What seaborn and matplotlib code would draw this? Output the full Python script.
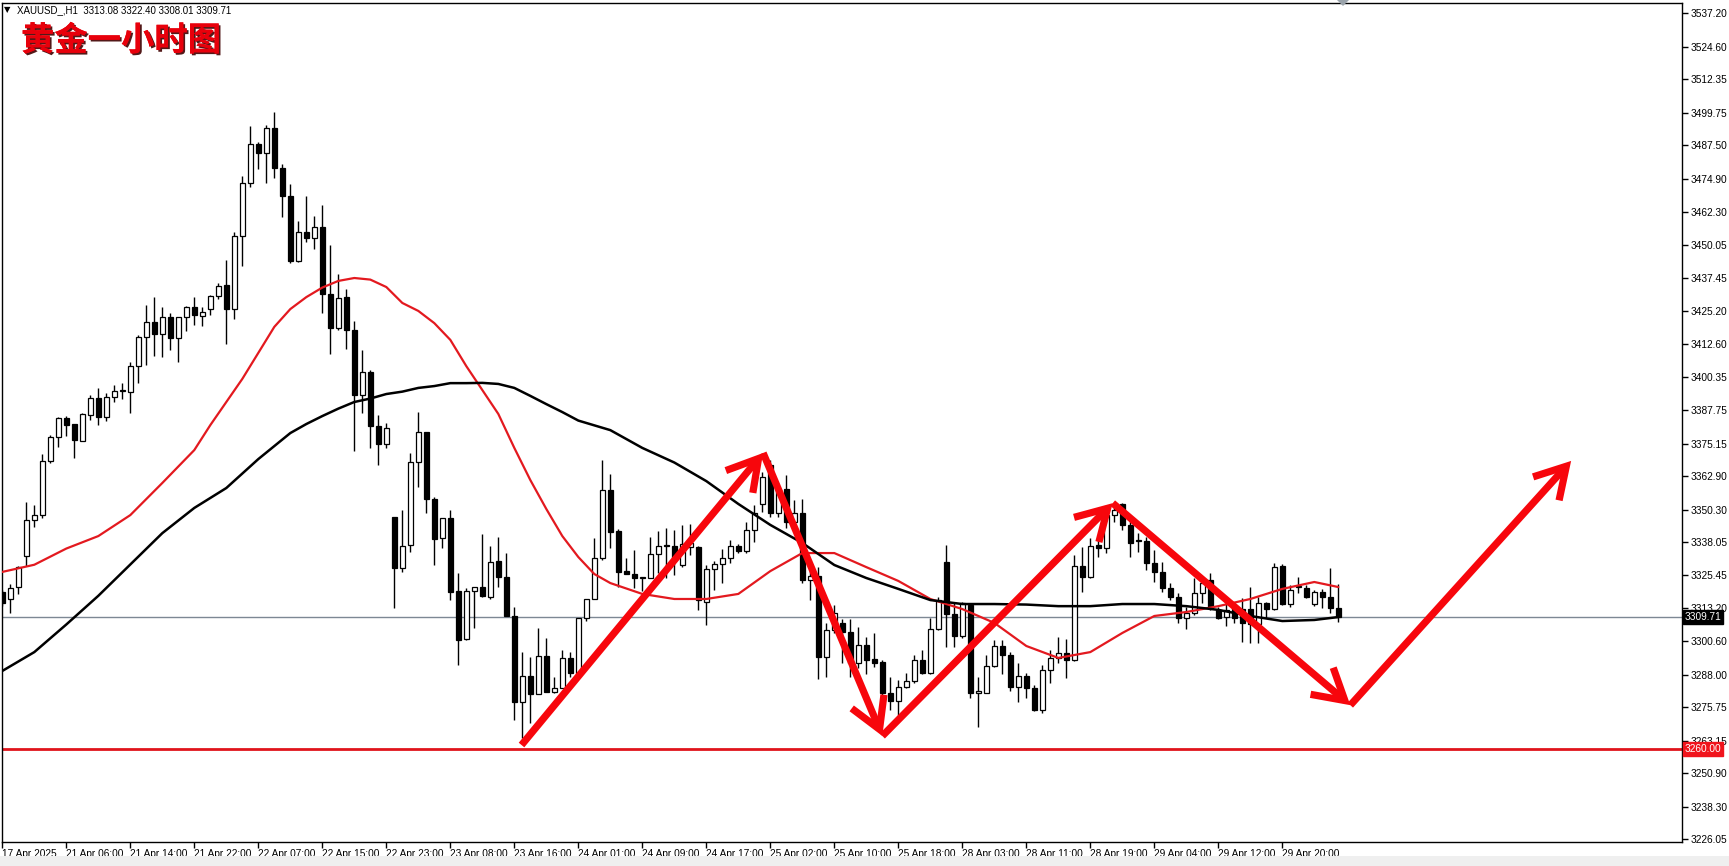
import numpy as np
import pandas as pd
import matplotlib
matplotlib.use("Agg")
import matplotlib.pyplot as plt
import matplotlib.patheffects as pe
import matplotlib.transforms as mtransforms
from matplotlib.patches import Rectangle, Polygon
import seaborn as sns

# ---------------- data (XAUUSD H1) ----------------
opens = [3319.2, 3316.6, 3321.1, 3332.8, 3346.4, 3348.2, 3368.6, 3377.6, 3384.8, 3382.5,
         3376.1, 3385.9, 3392.3, 3385.1, 3392.7, 3394.9, 3394.6, 3404.4, 3415.3, 3420.9,
         3416.4, 3422.8, 3414.9, 3422.8, 3426.6, 3423.2, 3425.8, 3430.7, 3434.9, 3425.8,
         3453.3, 3473.3, 3488.0, 3484.6, 3494.0, 3478.9, 3468.4, 3443.9, 3454.8, 3452.6,
         3456.7, 3431.5, 3418.7, 3430.3, 3417.9, 3393.4, 3402.1, 3381.8, 3375.0, 3347.5,
         3328.3, 3336.9, 3368.2, 3379.5, 3354.3, 3339.6, 3347.1, 3319.6, 3301.5, 3319.6,
         3321.1, 3317.3, 3330.9, 3324.9, 3310.2, 3277.8, 3287.6, 3280.8, 3295.1, 3281.6,
         3283.1, 3294.4, 3288.7, 3309.4, 3316.6, 3332.0, 3357.7, 3342.2, 3327.2, 3326.0,
         3324.5, 3324.5, 3333.5, 3336.6, 3336.6, 3329.4, 3336.2, 3336.2, 3315.5, 3327.9,
         3329.8, 3332.0, 3336.6, 3334.7, 3342.6, 3352.4, 3367.1, 3349.0, 3358.0, 3345.6,
         3349.0, 3323.8, 3325.3, 3294.7, 3304.9, 3307.6, 3304.2, 3292.5, 3299.3, 3294.0,
         3292.9, 3281.2, 3278.2, 3283.5, 3285.7, 3293.6, 3288.7, 3305.3, 3330.5, 3311.0,
         3302.7, 3314.3, 3281.2, 3281.2, 3291.4, 3298.9, 3295.5, 3283.5, 3287.6, 3283.1,
         3274.8, 3289.9, 3294.4, 3296.2, 3293.6, 3329.0, 3324.9, 3336.9, 3335.8, 3348.2,
         3352.4, 3344.5, 3338.4, 3338.4, 3330.2, 3326.8, 3320.7, 3317.3, 3309.4, 3311.3,
         3318.8, 3323.8, 3312.5, 3309.8, 3313.2, 3312.8, 3312.8, 3307.2, 3315.1, 3312.8,
         3329.0, 3314.7, 3321.1, 3320.7, 3314.7, 3319.2, 3317.3, 3313.08]
highs = [3320.0, 3322.2, 3329.0, 3353.1, 3352.0, 3371.2, 3378.4, 3385.1, 3385.5, 3382.5,
         3386.7, 3393.4, 3396.1, 3394.2, 3397.2, 3397.9, 3405.9, 3416.0, 3427.3, 3430.3,
         3426.6, 3424.3, 3422.8, 3427.0, 3430.3, 3426.6, 3431.1, 3435.6, 3444.3, 3454.8,
         3475.9, 3494.8, 3488.7, 3495.1, 3500.0, 3480.4, 3472.9, 3459.0, 3468.4, 3460.8,
         3465.0, 3449.9, 3439.0, 3433.4, 3421.3, 3410.4, 3402.9, 3385.9, 3382.9, 3347.5,
         3350.1, 3371.6, 3387.0, 3379.5, 3355.0, 3347.1, 3350.1, 3326.4, 3320.7, 3321.1,
         3341.1, 3336.6, 3339.9, 3333.9, 3313.6, 3296.6, 3294.7, 3305.7, 3301.9, 3287.2,
         3297.4, 3296.6, 3309.4, 3316.6, 3339.6, 3369.0, 3363.7, 3342.9, 3332.0, 3335.1,
         3324.9, 3339.9, 3342.2, 3343.3, 3342.6, 3344.5, 3344.8, 3336.5, 3329.4, 3330.9,
         3335.4, 3338.8, 3337.3, 3345.6, 3352.0, 3364.4, 3369.0, 3360.3, 3363.3, 3353.9,
         3354.3, 3328.6, 3328.6, 3307.6, 3314.3, 3309.1, 3309.1, 3306.1, 3302.3, 3303.8,
         3293.6, 3287.2, 3286.1, 3288.7, 3295.5, 3297.4, 3309.4, 3317.3, 3336.9, 3315.1,
         3315.5, 3314.7, 3287.2, 3295.5, 3301.2, 3301.2, 3296.6, 3292.5, 3288.7, 3284.2,
         3291.7, 3297.4, 3302.3, 3301.5, 3333.2, 3336.2, 3339.6, 3340.7, 3351.2, 3352.0,
         3352.7, 3347.5, 3341.5, 3339.9, 3335.1, 3330.5, 3322.6, 3318.8, 3313.6, 3324.5,
         3324.9, 3326.4, 3313.6, 3315.5, 3315.5, 3316.9, 3321.1, 3317.3, 3315.5, 3330.2,
         3329.8, 3321.9, 3324.9, 3321.9, 3320.0, 3320.4, 3328.3, 3322.40]
lows = [3314.0, 3311.3, 3318.5, 3329.0, 3343.7, 3347.1, 3367.8, 3373.8, 3378.0, 3369.7,
        3376.1, 3384.0, 3382.1, 3383.6, 3390.8, 3391.9, 3386.7, 3397.9, 3404.8, 3408.1,
        3407.7, 3410.4, 3405.9, 3417.5, 3419.8, 3419.4, 3423.6, 3429.6, 3412.6, 3422.1,
        3442.0, 3471.8, 3478.5, 3473.3, 3475.2, 3460.5, 3443.2, 3443.5, 3451.1, 3448.4,
        3424.3, 3408.9, 3417.9, 3410.8, 3372.3, 3386.7, 3373.5, 3367.1, 3373.5, 3313.2,
        3326.8, 3334.3, 3358.8, 3349.0, 3329.4, 3335.8, 3316.2, 3291.7, 3301.2, 3305.7,
        3317.3, 3316.6, 3321.1, 3310.2, 3271.0, 3264.2, 3269.9, 3280.8, 3281.6, 3281.2,
        3283.1, 3287.2, 3288.7, 3308.3, 3316.6, 3331.3, 3335.8, 3321.1, 3326.0, 3320.7,
        3319.6, 3324.5, 3326.4, 3324.5, 3325.6, 3328.6, 3333.2, 3312.5, 3306.8, 3320.0,
        3322.6, 3330.2, 3333.9, 3333.9, 3338.1, 3349.4, 3347.5, 3347.5, 3343.3, 3343.7,
        3322.6, 3316.2, 3286.5, 3287.2, 3303.8, 3292.5, 3287.2, 3290.6, 3288.3, 3291.0,
        3273.7, 3274.8, 3272.9, 3283.1, 3284.9, 3288.3, 3288.3, 3304.9, 3298.5, 3298.5,
        3301.9, 3279.3, 3268.4, 3281.2, 3291.0, 3288.3, 3281.9, 3277.8, 3279.3, 3274.4,
        3273.7, 3284.9, 3292.5, 3286.8, 3293.2, 3319.2, 3324.5, 3332.4, 3333.9, 3345.6,
        3342.6, 3332.4, 3334.3, 3327.5, 3323.0, 3319.2, 3316.2, 3307.6, 3305.3, 3310.6,
        3315.1, 3312.5, 3309.1, 3306.4, 3307.6, 3300.4, 3300.0, 3300.0, 3309.4, 3312.5,
        3314.3, 3313.6, 3318.8, 3316.9, 3313.9, 3313.2, 3311.3, 3308.01]
closes = [3315.1, 3320.7, 3328.6, 3346.4, 3348.2, 3368.6, 3377.6, 3384.8, 3382.1, 3376.5,
          3386.3, 3392.3, 3385.1, 3392.7, 3394.9, 3395.0, 3404.4, 3415.3, 3420.9, 3416.4,
          3422.8, 3414.9, 3422.8, 3426.6, 3423.6, 3424.7, 3430.7, 3434.5, 3425.8, 3453.3,
          3473.3, 3488.0, 3484.6, 3494.0, 3478.9, 3468.4, 3443.9, 3454.8, 3452.6, 3456.7,
          3431.5, 3418.7, 3430.0, 3417.9, 3393.4, 3402.1, 3381.8, 3375.0, 3381.0, 3328.3,
          3336.6, 3368.2, 3379.5, 3354.3, 3339.2, 3347.1, 3319.2, 3301.2, 3319.6, 3321.1,
          3317.7, 3330.5, 3324.9, 3310.2, 3277.8, 3287.6, 3280.8, 3295.1, 3281.6, 3283.1,
          3294.4, 3288.7, 3309.4, 3316.6, 3332.0, 3357.7, 3341.8, 3326.8, 3326.0, 3324.5,
          3324.6, 3333.5, 3336.6, 3336.5, 3332.0, 3337.3, 3337.7, 3316.2, 3327.9, 3329.8,
          3332.0, 3336.6, 3334.7, 3342.6, 3349.0, 3362.5, 3349.0, 3357.7, 3345.6, 3349.0,
          3323.8, 3325.3, 3294.7, 3304.9, 3311.3, 3304.2, 3292.5, 3299.3, 3293.6, 3292.5,
          3281.2, 3278.2, 3283.5, 3285.7, 3293.6, 3288.7, 3305.3, 3316.2, 3311.0, 3302.7,
          3315.1, 3281.2, 3281.9, 3291.4, 3298.9, 3295.5, 3283.5, 3287.6, 3283.1, 3274.8,
          3289.9, 3294.4, 3296.2, 3293.6, 3329.0, 3324.9, 3336.6, 3335.8, 3348.2, 3350.1,
          3344.5, 3337.7, 3338.3, 3330.2, 3326.8, 3320.7, 3317.3, 3309.4, 3311.3, 3318.8,
          3322.6, 3313.2, 3309.4, 3312.5, 3309.4, 3307.6, 3307.2, 3315.1, 3312.8, 3328.6,
          3314.7, 3320.0, 3321.2, 3317.3, 3319.2, 3317.3, 3313.2, 3309.71]

# moving averages (denser where the curves bend)
red_bars = [0, 4, 8, 12, 16, 20, 24, 26, 28, 30, 32, 34, 36, 38, 40, 42, 44, 46, 48, 50,
            52, 54, 56, 58, 60, 62, 64, 66, 68, 70, 72, 74, 76, 80, 84, 88, 92, 96, 100,
            104, 108, 112, 116, 120, 124, 128, 132, 136, 140, 144, 148, 152, 156, 160,
            164, 167]
red_ma = [3326.8, 3329.5, 3335.6, 3340.3, 3348.2, 3360.3, 3372.7, 3382.1, 3390.8, 3399.5,
          3409.3, 3419.1, 3425.8, 3430.3, 3433.9, 3436.4, 3437.5, 3436.9, 3434.1, 3428.1,
          3425.1, 3420.5, 3414.2, 3404.3, 3395.3, 3386.3, 3373.5, 3361.4, 3350.5, 3340.3,
          3332.4, 3326.0, 3322.6, 3318.5, 3316.6, 3316.6, 3318.5, 3327.1, 3333.9, 3333.9,
          3328.6, 3323.4, 3316.6, 3312.8, 3307.6, 3298.9, 3294.4, 3296.6, 3303.8, 3310.2,
          3311.7, 3313.9, 3316.6, 3320.4, 3323.0, 3321.1]
black_bars = [0, 4, 8, 12, 16, 20, 24, 28, 32, 36, 38, 40, 42, 44, 46, 48, 50, 52, 54, 56,
              58, 60, 62, 64, 66, 68, 70, 72, 76, 80, 84, 88, 92, 96, 100, 104, 108, 112,
              116, 120, 124, 128, 132, 136, 140, 144, 148, 152, 156, 160, 164, 167]
black_ma = [3289.5, 3296.6, 3307.0, 3317.8, 3329.6, 3341.4, 3350.9, 3358.4, 3369.3, 3379.1,
            3382.5, 3385.5, 3388.3, 3390.8, 3392.1, 3393.8, 3394.7, 3396.1, 3396.8, 3397.9,
            3397.9, 3398.0, 3397.6, 3396.1, 3393.1, 3390.0, 3387.0, 3383.8, 3380.2, 3373.5,
            3368.0, 3361.0, 3352.4, 3344.5, 3337.7, 3329.4, 3324.5, 3320.4, 3316.2, 3314.7,
            3314.7, 3314.5, 3313.9, 3313.9, 3314.7, 3314.7, 3313.9, 3312.5, 3310.2, 3308.3,
            3308.7, 3309.8]

# hand-drawn forecast path (bar index, price)
path_bars = [64.9, 95.1, 110.0, 138.8, 168.5, 196.1]
path_prices = [3261.6, 3371.6, 3265.0, 3352.7, 3276.6, 3368.6]

price_ticks = [3537.20, 3524.60, 3512.35, 3499.75, 3487.50, 3474.90, 3462.30, 3450.05,
               3437.45, 3425.20, 3412.60, 3400.35, 3387.75, 3375.15, 3362.90, 3350.30,
               3338.05, 3325.45, 3313.20, 3300.60, 3288.00, 3275.75, 3263.15, 3250.90,
               3238.30, 3226.05]
time_tick_bars = [0, 8, 16, 24, 32, 40, 48, 56, 64, 72, 80, 88, 96, 104, 112, 120, 128,
                  136, 144, 152, 160]
time_tick_labels = ["17 Apr 2025", "21 Apr 06:00", "21 Apr 14:00", "21 Apr 22:00",
                    "22 Apr 07:00", "22 Apr 15:00", "22 Apr 23:00", "23 Apr 08:00",
                    "23 Apr 16:00", "24 Apr 01:00", "24 Apr 09:00", "24 Apr 17:00",
                    "25 Apr 02:00", "25 Apr 10:00", "25 Apr 18:00", "28 Apr 03:00",
                    "28 Apr 11:00", "28 Apr 19:00", "29 Apr 04:00", "29 Apr 12:00",
                    "29 Apr 20:00"]
last_price = 3309.71
support_price = 3260.00
title_text = "黄金一小时图"
header_text = "XAUUSD_,H1  3313.08 3322.40 3308.01 3309.71"

# ---------------- styling ----------------
sns.set_theme(style="white")
plt.rcParams['font.family'] = ['Liberation Sans', 'DejaVu Sans']
plt.rcParams['axes.edgecolor'] = 'black'
plt.rcParams['axes.linewidth'] = 1.0

W, H = 1729, 866
fig = plt.figure(figsize=(W / 100, H / 100), dpi=100, facecolor='white')
ax = fig.add_axes([2 / W, 24 / H, 1680 / W, 839 / H])
ax.set_facecolor('white')

df = pd.DataFrame({"bar": np.arange(len(opens)), "open": opens, "high": highs,
                   "low": lows, "close": closes})
df["up"] = df["close"] >= df["open"]
df["body_lo"] = df[["open", "close"]].min(axis=1)
df["body_h"] = (df["close"] - df["open"]).abs().clip(lower=0.35)

# reference lines
ax.axhline(last_price, color='#7d8894', lw=1.0, zorder=1)
ax.axhline(support_price, color='#e0141c', lw=2.0, zorder=1)

# wicks
ax.vlines(df["bar"], df["low"], df["high"], color='black', lw=1.0, zorder=2)
# bodies
up = df[df["up"]]
dn = df[~df["up"]]
ax.bar(up["bar"], up["body_h"], bottom=up["body_lo"], width=0.6, color='white',
       edgecolor='black', linewidth=0.9, zorder=3)
ax.bar(dn["bar"], dn["body_h"], bottom=dn["body_lo"], width=0.6, color='black',
       edgecolor='black', linewidth=0.9, zorder=3)

# moving averages
red_df = pd.DataFrame({"bar": red_bars, "ma": red_ma})
black_df = pd.DataFrame({"bar": black_bars, "ma": black_ma})
sns.lineplot(data=red_df, x="bar", y="ma", color='#e3191f', lw=1.6, ax=ax,
             sort=False, estimator=None, zorder=4)
sns.lineplot(data=black_df, x="bar", y="ma", color='black', lw=1.8, ax=ax,
             sort=False, estimator=None, zorder=4)

# forecast arrows
for i in range(len(path_bars) - 1):
    ax.annotate("", xy=(path_bars[i + 1], path_prices[i + 1]),
                xytext=(path_bars[i], path_prices[i]),
                arrowprops=dict(arrowstyle="->,head_length=0.62,head_width=0.36",
                                color='#f7060c', lw=5.2, shrinkA=0, shrinkB=0,
                                mutation_scale=35, joinstyle='miter', capstyle='butt'),
                zorder=6)

ax.set_xlim(-0.04, 209.96)
ax.set_ylim(3225.07, 3541.08)
ax.set_xlabel("")
ax.set_ylabel("")

# axes ticks
ax.yaxis.tick_right()
ax.set_yticks(price_ticks)
ax.set_yticklabels([f"{t:.2f}" for t in price_ticks])
ax.tick_params(axis='y', which='major', direction='out', length=4, width=1,
               pad=2, labelsize=7.3, colors='black', right=True, left=False)
ax.set_xticks(time_tick_bars)
ax.set_xticklabels(time_tick_labels, ha='left')
ax.tick_params(axis='x', which='major', direction='out', length=4, width=1,
               pad=1, labelsize=7.3, colors='black', bottom=True)
for s in ax.spines.values():
    s.set_visible(True)
    s.set_color('black')
    s.set_linewidth(1.0)

# price tags on the right axis
trans = mtransforms.blended_transform_factory(ax.transAxes, ax.transData)
ax.text(1.0015, last_price, f"{last_price:.2f}", transform=trans, color='white',
        fontsize=7.3, va='center', ha='left', clip_on=False, zorder=20,
        bbox=dict(boxstyle='square,pad=0.18', fc='black', ec='black'))
ax.text(1.0015, support_price, f"{support_price:.2f}", transform=trans, color='white',
        fontsize=7.3, va='center', ha='left', clip_on=False, zorder=20,
        bbox=dict(boxstyle='square,pad=0.18', fc='#f0141c', ec='#f0141c'))

# header and title
fig.text(4 / W, 1 - 10 / H, "▼", fontsize=6, color='black', va='center', ha='left',
         family=['DejaVu Sans'])
fig.text(17 / W, 1 - 10 / H, header_text, fontsize=7, color='black', va='center', ha='left')
fig.text(21 / W, 1 - 41 / H, title_text, fontsize=24, color='#e8000b', weight='bold',
         va='center', ha='left', family=['Noto Sans CJK SC', 'DejaVu Sans'],
         path_effects=[pe.withSimplePatchShadow(offset=(1.3, -1.3), shadow_rgbFace='#400000',
                                                alpha=0.9), pe.Normal()])

# chart shift marker at top
fig.patches.append(Polygon([[1337 / W, 1 - 0 / H], [1349 / W, 1 - 0 / H], [1343 / W, 1 - 6 / H]],
                           closed=True, transform=fig.transFigure, fc='#9aa3ab', ec='none',
                           zorder=10))
# light grey status strip at bottom
fig.patches.append(Rectangle((0, 0), 1, 10 / H, transform=fig.transFigure,
                             fc='#efefef', ec='none', zorder=0))

fig.savefig("out.png", dpi=100, facecolor='white')
